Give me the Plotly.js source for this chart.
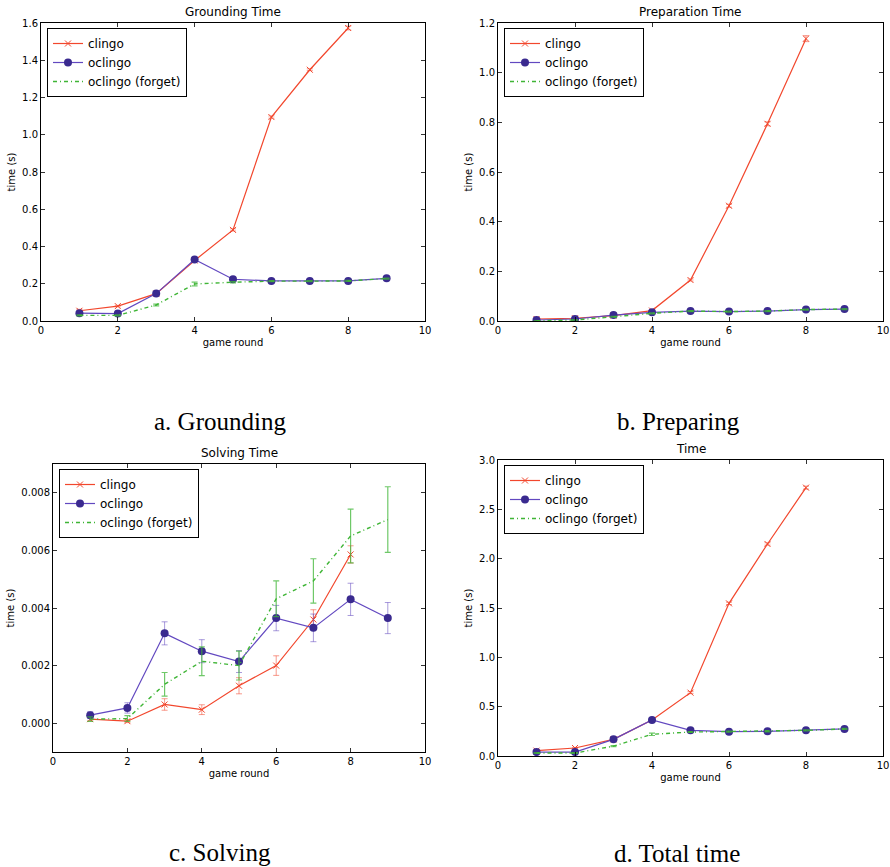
<!DOCTYPE html>
<html>
<head>
<meta charset="utf-8">
<script src="https://cdn.plot.ly/plotly-3.0.1.min.js"></script>
<style>html,body{margin:0;padding:0;background:#fff;}#chart{width:890px;height:867px;}</style>
</head>
<body>
<div id="chart"></div>
<script>
// ---- data ----
const rounds = [1, 2, 3, 4, 5, 6, 7, 8, 9];
const roundsClingo = [1, 2, 3, 4, 5, 6, 7, 8];
const seriesNames = ["clingo", "oclingo", "oclingo (forget)"];

// a. Grounding
const groundClingo = [0.055, 0.08, 0.147, 0.325, 0.489, 1.095, 1.349, 1.573];
const groundClingoErr = [0.008, 0.004, 0.004, 0.004, 0.006, 0.006, 0.005, 0.01];
const groundOclingo = [0.042, 0.040, 0.147, 0.330, 0.224, 0.215, 0.215, 0.215, 0.229];
const groundOclingoErr = [0.004, 0.003, 0.004, 0.004, 0.003, 0.003, 0.003, 0.003, 0.003];
const groundForget = [0.030, 0.030, 0.086, 0.199, 0.208, 0.214, 0.214, 0.215, 0.228];
const groundForgetErr = [0.003, 0.003, 0.005, 0.01, 0.004, 0.003, 0.003, 0.003, 0.003];

// b. Preparing
const prepClingo = [0.008, 0.011, 0.022, 0.042, 0.165, 0.464, 0.794, 1.137];
const prepClingoErr = [0.002, 0.002, 0.002, 0.003, 0.004, 0.006, 0.008, 0.012];
const prepOclingo = [0.004, 0.008, 0.024, 0.035, 0.040, 0.038, 0.040, 0.046, 0.048];
const prepOclingoErr = [0.001, 0.001, 0.002, 0.002, 0.002, 0.002, 0.002, 0.002, 0.002];
const prepForget = [0.001, 0.004, 0.017, 0.031, 0.040, 0.038, 0.040, 0.046, 0.048];
const prepForgetErr = [0.001, 0.001, 0.002, 0.002, 0.002, 0.002, 0.002, 0.002, 0.002];

// c. Solving
const solveClingo = [0.00014, 0.00007, 0.00065, 0.00047, 0.0013, 0.0020, 0.0036, 0.00586];
const solveClingoErr = [0.00006, 0.00005, 0.0002, 0.00017, 0.00028, 0.00034, 0.00034, 0.0003];
const solveOclingo = [0.00028, 0.00053, 0.00312, 0.0025, 0.00214, 0.00365, 0.00331, 0.0043, 0.00365];
const solveOclingoErr = [0.00012, 0.00018, 0.0004, 0.0004, 0.00038, 0.00044, 0.00048, 0.00056, 0.00054];
const solveForget = [0.00014, 0.00016, 0.00135, 0.00215, 0.0020, 0.00432, 0.00494, 0.0065, 0.00707];
const solveForgetErr = [0.00008, 0.0001, 0.00041, 0.0005, 0.0005, 0.00062, 0.00077, 0.00093, 0.00114];

// d. Total time
const totalClingo = [0.054, 0.081, 0.169, 0.365, 0.642, 1.547, 2.149, 2.72];
const totalClingoErr = [0.01, 0.006, 0.006, 0.006, 0.01, 0.012, 0.012, 0.015];
const totalOclingo = [0.04, 0.04, 0.169, 0.365, 0.26, 0.247, 0.25, 0.26, 0.274];
const totalOclingoErr = [0.005, 0.005, 0.005, 0.006, 0.005, 0.005, 0.005, 0.005, 0.005];
const totalForget = [0.03, 0.03, 0.10, 0.22, 0.243, 0.247, 0.25, 0.26, 0.274];
const totalForgetErr = [0.004, 0.004, 0.005, 0.012, 0.005, 0.005, 0.005, 0.005, 0.005];

const panelTitles = ["Grounding Time", "Preparation Time", "Solving Time", "Time"];
const captions = ["a. Grounding", "b. Preparing", "c. Solving", "d. Total time"];
const xTickVals = [0, 2, 4, 6, 8, 10];

// ---- styling ----
const W = 890, H = 867;
const RED = "#f2472d", RED_ERR = "rgba(242,71,45,0.55)";
const PUR_LINE = "#6248c0", PUR_MK = "#3a2a8f", PUR_ERR = "rgba(98,72,192,0.55)";
const GRN = "#3fb536", GRN_ERR = "rgba(63,181,54,0.75)";

// panel boxes in pixels [left, right, top, bottom]
const boxes = [
  [41, 425, 23, 321],
  [498, 883, 23, 321],
  [53, 425, 464, 752],
  [498, 883, 460, 756]
];
const yRanges = [[0, 1.6], [0, 1.2], [-0.001, 0.009], [0, 3.0]];
const yDticks = [0.2, 0.2, 0.002, 0.5];
const yFormats = [".1f", ".1f", ".3f", ".1f"];

const data = [
  [groundClingo, groundClingoErr, groundOclingo, groundOclingoErr, groundForget, groundForgetErr],
  [prepClingo, prepClingoErr, prepOclingo, prepOclingoErr, prepForget, prepForgetErr],
  [solveClingo, solveClingoErr, solveOclingo, solveOclingoErr, solveForget, solveForgetErr],
  [totalClingo, totalClingoErr, totalOclingo, totalOclingoErr, totalForget, totalForgetErr]
];

const traces = [];
const layout = {
  width: W, height: H,
  margin: {l: 0, r: 0, t: 0, b: 0},
  paper_bgcolor: "#fff", plot_bgcolor: "#fff",
  font: {family: "DejaVu Sans", color: "#000", size: 10},
  showlegend: true,
  annotations: []
};

function px2x(p) { return p / W; }
function px2y(p) { return 1 - p / H; }

data.forEach((d, i) => {
  const n = i + 1;
  const xa = "x" + (n === 1 ? "" : n), ya = "y" + (n === 1 ? "" : n);
  const legendId = "legend" + (n === 1 ? "" : n);
  traces.push({
    x: roundsClingo, y: d[0], name: seriesNames[0], type: "scatter", mode: "lines+markers",
    xaxis: xa, yaxis: ya, legend: legendId,
    line: {color: RED, width: 1.2},
    marker: {symbol: "x-thin", size: 6, color: RED, line: {color: RED, width: 1}},
    error_y: {type: "data", array: d[1], visible: true, color: RED_ERR, thickness: 1, width: 3}
  });
  traces.push({
    x: rounds, y: d[2], name: seriesNames[1], type: "scatter", mode: "lines+markers",
    xaxis: xa, yaxis: ya, legend: legendId,
    line: {color: PUR_LINE, width: 1.2},
    marker: {symbol: "circle", size: 8, color: PUR_MK},
    error_y: {type: "data", array: d[3], visible: true, color: PUR_ERR, thickness: 1, width: 3}
  });
  traces.push({
    x: rounds, y: d[4], name: seriesNames[2], type: "scatter", mode: "lines",
    xaxis: xa, yaxis: ya, legend: legendId,
    line: {color: GRN, width: 1.4, dash: "4px,3px,1px,3px"},
    error_y: {type: "data", array: d[5], visible: true, color: GRN_ERR, thickness: 1.2, width: 3}
  });

  const b = boxes[i];
  const axCommon = {
    showgrid: false, zeroline: false, showline: true, linecolor: "#000", linewidth: 1,
    mirror: "allticks", ticks: "inside", ticklen: 4, tickwidth: 0.8, tickcolor: "#000",
    tickfont: {family: "DejaVu Sans", size: 10, color: "#000"}, fixedrange: true
  };
  layout["xaxis" + (n === 1 ? "" : n)] = Object.assign({}, axCommon, {
    domain: [px2x(b[0]), px2x(b[1])], anchor: ya, range: [0, 10],
    tickvals: xTickVals, ticktext: xTickVals.map(String),
    title: {text: "game round", font: {family: "DejaVu Sans", size: 10}, standoff: 3}
  });
  layout["yaxis" + (n === 1 ? "" : n)] = Object.assign({}, axCommon, {
    domain: [px2y(b[3]), px2y(b[2])], anchor: xa, range: yRanges[i],
    dtick: yDticks[i], tick0: 0, tickformat: yFormats[i],
    title: {text: "time (s)", font: {family: "DejaVu Sans", size: 10}, standoff: 4}
  });
  layout[legendId] = {
    x: px2x(b[0] + 6), y: px2y(b[2] + 5), xanchor: "left", yanchor: "top",
    xref: "paper", yref: "paper",
    bgcolor: "#fff", bordercolor: "#000", borderwidth: 1,
    font: {family: "DejaVu Sans", size: 12, color: "#000"},
    tracegroupgap: 0, itemwidth: 30
  };
  layout.annotations.push({
    text: panelTitles[i], xref: "paper", yref: "paper",
    x: px2x((b[0] + b[1]) / 2), y: px2y(b[2] - 2), xanchor: "center", yanchor: "bottom",
    showarrow: false, font: {family: "DejaVu Sans", size: 12, color: "#000"}
  });
});

const capPos = [[220, 421], [678, 421], [220, 852], [677, 853]];
captions.forEach((c, i) => {
  layout.annotations.push({
    text: c, xref: "paper", yref: "paper",
    x: px2x(capPos[i][0]), y: px2y(capPos[i][1]), xanchor: "center", yanchor: "middle",
    showarrow: false, font: {family: "Liberation Serif", size: 25, color: "#000"}
  });
});

Plotly.newPlot("chart", traces, layout, {displayModeBar: false, staticPlot: true});
</script>
</body>
</html>
